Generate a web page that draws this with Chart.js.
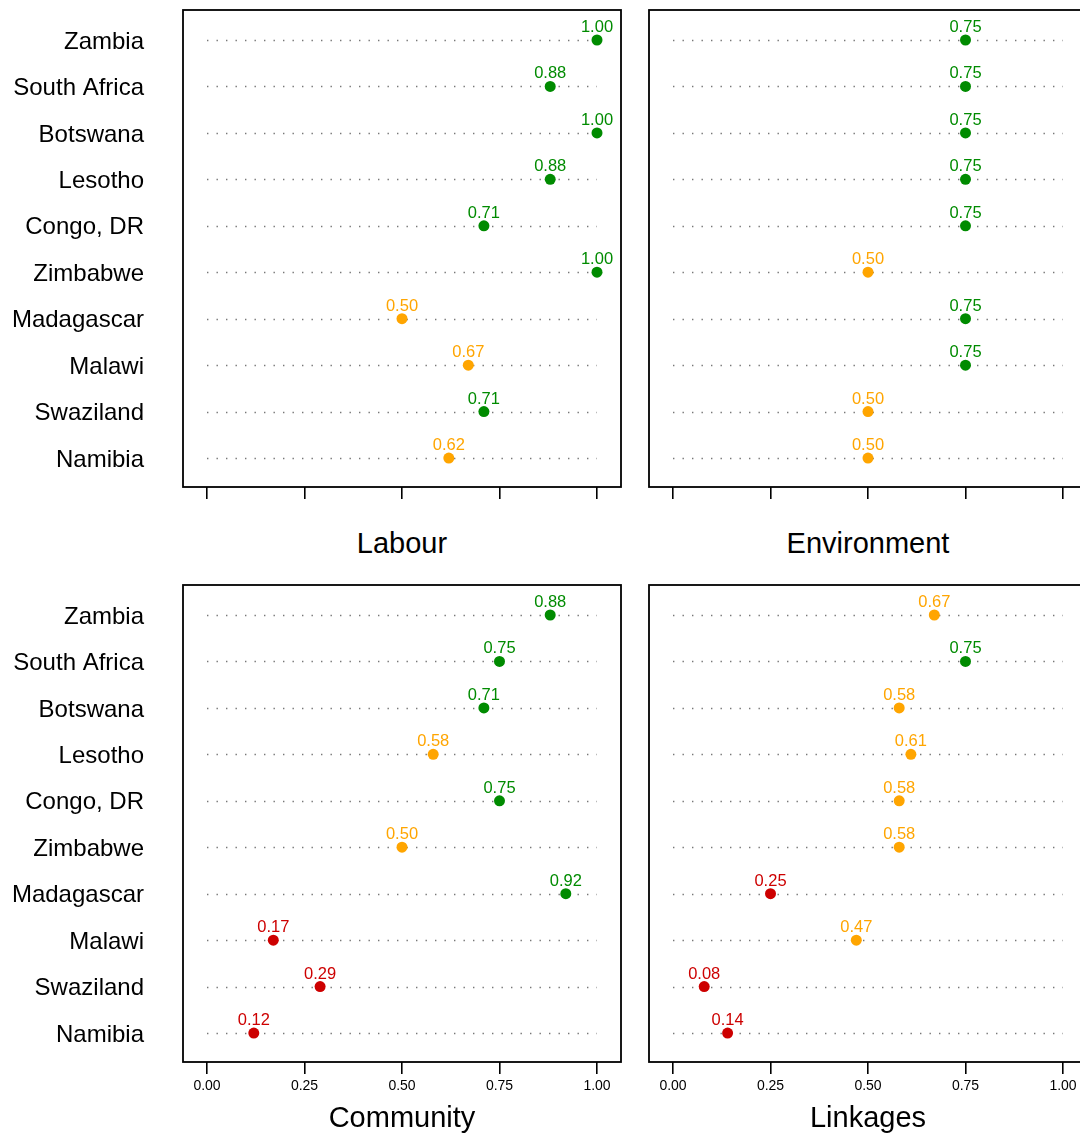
<!DOCTYPE html>
<html lang="en">
<head>
    <meta charset="UTF-8">
    <title>Dot plots - Southern Africa</title>
    <script src="https://cdn.jsdelivr.net/npm/chart.js"></script>
    <style>
        html, body { margin: 0; padding: 0; background: #fff; overflow: hidden; }
        body { width: 1080px; height: 1134px; position: relative; font-family: "Liberation Sans", Arial, sans-serif; }
        canvas { position: absolute; }
        .title { position: absolute; font-size: 29px; color: #000; transform: translate(-50%, -50%); white-space: nowrap; }
    </style>
</head>
<body>
    <canvas id="labour" width="640" height="500" style="left:0px;top:0px"></canvas>
    <canvas id="environment" width="470" height="500" style="left:630px;top:0px"></canvas>
    <canvas id="community" width="640" height="559" style="left:0px;top:575px"></canvas>
    <canvas id="linkages" width="470" height="559" style="left:630px;top:575px"></canvas>

    <div class="title" style="left:402px;top:543px">Labour</div>
    <div class="title" style="left:868px;top:543px">Environment</div>
    <div class="title" style="left:402px;top:1117px">Community</div>
    <div class="title" style="left:868px;top:1117px">Linkages</div>

    <script>
        // Data
        const countries = ['Zambia', 'South Africa', 'Botswana', 'Lesotho', 'Congo, DR',
                           'Zimbabwe', 'Madagascar', 'Malawi', 'Swaziland', 'Namibia'];
        const labour      = [1.00, 0.88, 1.00, 0.88, 0.71, 1.00, 0.50, 0.67, 0.71, 0.62];
        const environment = [0.75, 0.75, 0.75, 0.75, 0.75, 0.50, 0.75, 0.75, 0.50, 0.50];
        const community   = [0.88, 0.75, 0.71, 0.58, 0.75, 0.50, 0.92, 0.17, 0.29, 0.12];
        const linkages    = [0.67, 0.75, 0.58, 0.61, 0.58, 0.58, 0.25, 0.47, 0.08, 0.14];
        const xTicks = [0, 0.25, 0.5, 0.75, 1];

        // score -> colour
        function getColor(v) {
            if (v >= 0.7) return '#008B00';
            if (v >= 0.4) return '#FFA500';
            return '#CD0000';
        }

        const FONT = '"Liberation Sans", Arial, sans-serif';

        // frame, dotted guide lines and value labels
        const dotPlugin = {
            id: 'dotPlugin',
            beforeDatasetsDraw(chart) {
                const ctx = chart.ctx;
                const xs = chart.scales.x, ys = chart.scales.y;
                ctx.save();
                ctx.strokeStyle = '#777';
                ctx.lineWidth = 1.4;
                ctx.setLineDash([1.4, 8.1]);
                countries.forEach((c, i) => {
                    const y = Math.round(ys.getPixelForValue(i + 1)) + 0.5;
                    ctx.beginPath();
                    ctx.moveTo(xs.getPixelForValue(0), y);
                    ctx.lineTo(xs.getPixelForValue(1), y);
                    ctx.stroke();
                });
                ctx.restore();
            },
            afterDraw(chart) {
                const ctx = chart.ctx;
                const a = chart.chartArea;
                ctx.save();
                ctx.strokeStyle = '#000';
                ctx.lineWidth = 1.8;
                ctx.strokeRect(a.left, a.top, a.right - a.left, a.bottom - a.top);

                ctx.font = '16.5px ' + FONT;
                ctx.textAlign = 'center';
                ctx.textBaseline = 'alphabetic';
                const meta = chart.getDatasetMeta(0);
                const vals = chart.data.datasets[0].data;
                meta.data.forEach((pt, i) => {
                    ctx.fillStyle = getColor(vals[i].x);
                    ctx.fillText(vals[i].x.toFixed(2), pt.x, pt.y - 8);
                });
                ctx.restore();
            }
        };

        function makePanel(id, values, showNames, showTicks) {
            const leftW = showNames ? 183 : 19;
            const padRight = showNames ? 19 : 13;
            const axisH = showTicks ? 72 : 13;
            const ext = 24 / 390;

            return new Chart(document.getElementById(id), {
                type: 'scatter',
                data: {
                    datasets: [{
                        data: values.map((v, i) => ({ x: v, y: i + 1 })),
                        backgroundColor: values.map(getColor),
                        borderWidth: 0,
                        pointRadius: 5.5,
                        pointHoverRadius: 5.5
                    }]
                },
                options: {
                    responsive: false,
                    animation: false,
                    layout: { padding: { top: 10, right: padRight, bottom: 0, left: 0 } },
                    scales: {
                        x: {
                            type: 'linear',
                            min: -ext,
                            max: 1 + ext,
                            afterBuildTicks: s => { s.ticks = xTicks.map(v => ({ value: v })); },
                            afterFit: s => {
                                s.height = axisH;
                                s.paddingLeft = 0; s.paddingRight = 0;
                                s.paddingTop = 0; s.paddingBottom = 0;
                            },
                            grid: {
                                display: true,
                                drawOnChartArea: false,
                                drawTicks: true,
                                tickLength: 12,
                                color: '#000',
                                lineWidth: 1.6
                            },
                            border: { display: false },
                            ticks: {
                                display: showTicks,
                                autoSkip: false,
                                maxRotation: 0,
                                padding: 4,
                                color: '#000',
                                font: { family: FONT, size: 14 },
                                callback: v => Number(v).toFixed(2)
                            }
                        },
                        y: {
                            type: 'linear',
                            reverse: true,
                            min: 0.354,
                            max: 10.624,
                            afterBuildTicks: s => { s.ticks = countries.map((c, i) => ({ value: i + 1 })); },
                            afterFit: s => {
                                s.width = leftW;
                                s.paddingLeft = 0; s.paddingRight = 0;
                                s.paddingTop = 0; s.paddingBottom = 0;
                            },
                            grid: { display: false, drawTicks: false },
                            border: { display: false },
                            ticks: {
                                display: showNames,
                                padding: 39,
                                labelOffset: 2,
                                color: '#000',
                                font: { family: FONT, size: 24 },
                                callback: v => countries[v - 1]
                            }
                        }
                    },
                    plugins: {
                        legend: { display: false },
                        tooltip: { enabled: false }
                    }
                },
                plugins: [dotPlugin]
            });
        }

        makePanel('labour', labour, true, false);
        makePanel('environment', environment, false, false);
        makePanel('community', community, true, true);
        makePanel('linkages', linkages, false, true);
    </script>
</body>
</html>
